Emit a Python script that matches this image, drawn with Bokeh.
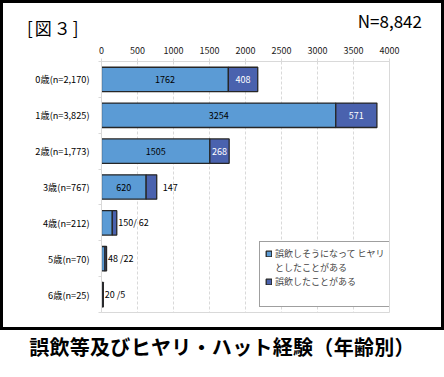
from bokeh.plotting import figure
from bokeh.models import (Range1d, FixedTicker, ColumnDataSource, Legend, LegendItem, Div)
from bokeh.layouts import column
from bokeh.core.properties import value
from bokeh.embed import file_html
from bokeh.resources import INLINE

# ---- data ----
ages = ["0歳(n=2,170)", "1歳(n=3,825)", "2歳(n=1,773)", "3歳(n=767)",
        "4歳(n=212)", "5歳(n=70)", "6歳(n=25)"]
hiyari = [1762, 3254, 1505, 620, 150, 48, 20]      # 誤飲しそうになってヒヤリとしたことがある
goin = [408, 571, 268, 147, 62, 22, 5]              # 誤飲したことがある
x_ticks = [0, 500, 1000, 1500, 2000, 2500, 3000, 3500, 4000]
series_names = ["誤飲しそうになって ヒヤリ\nとしたことがある", "誤飲したことがある"]
outside_rows = [3, 4, 5, 6]
outside_texts = ["147", "150/ 62", "48 /22", "20 /5"]
fig_label = "[図３]"
n_label = "N=8,842"
title_text = "誤飲等及びヒヤリ・ハット経験（年齢別）"

FONT = "Noto Sans CJK JP"
LIGHT = "#5b9bd5"
DARK = "#4a62ae"
GRID = "#d9d9d9"

ys = [i + 0.5 for i in range(len(ages))]
totals = [a + b for a, b in zip(hiyari, goin)]

HEADER_H = 40
p = figure(width=444, height=330 - HEADER_H, x_range=Range1d(0, 4000), y_range=Range1d(7, 0),
           x_axis_location="above", output_backend="svg", toolbar_location=None,
           min_border_left=101, min_border_right=55, min_border_top=61 - HEADER_H,
           min_border_bottom=18, margin=0)
p.background_fill_color = "white"
p.border_fill_color = "white"
p.outline_line_color = GRID

src = ColumnDataSource(dict(y=ys, h=hiyari, g=goin, t=totals))

r1 = p.hbar(y="y", left=0, right="h", height=0.68, source=src,
            fill_color=LIGHT, line_color="#262626", line_width=1.3)
r2 = p.hbar(y="y", left="h", right="t", height=0.68, source=src,
            fill_color=DARK, line_color="#262626", line_width=1.3)
# invisible renderer used for legend continuation lines (no glyph shown)
r_blank = p.hbar(y=[], left=[], right=[], height=0.68, fill_alpha=0, line_alpha=0)

# inside labels
p.text(x=[hiyari[i] / 2 for i in range(4)], y=ys[:4],
       text=[str(v) for v in hiyari[:4]], text_font=value(FONT), text_font_size="9px",
       text_color="black", text_align="center", text_baseline="middle")
p.text(x=[hiyari[i] + goin[i] / 2 for i in range(3)], y=ys[:3],
       text=[str(v) for v in goin[:3]], text_font=value(FONT), text_font_size="9px",
       text_color="white", text_align="center", text_baseline="middle")
# outside labels
p.text(x=[totals[outside_rows[0]]], y=[ys[outside_rows[0]]], text=[outside_texts[0]],
       x_offset=6, text_font=value(FONT), text_font_size="9px", text_color="black",
       text_align="left", text_baseline="middle")
p.text(x=[totals[i] for i in outside_rows[1:]], y=[ys[i] for i in outside_rows[1:]],
       text=outside_texts[1:], x_offset=1.5, text_font=value(FONT), text_font_size="9px",
       text_color="black", text_align="left", text_baseline="middle")

# axes
xa = p.xaxis[0]
xa.ticker = FixedTicker(ticks=x_ticks)
xa.axis_line_color = GRID
xa.major_tick_line_color = GRID
xa.major_tick_out = 3
xa.major_tick_in = 0
xa.minor_tick_line_color = None
xa.major_label_text_font = FONT
xa.major_label_text_font_size = "9px"
xa.major_label_text_color = "#1a1a1a"
xa.major_label_standoff = 5

ya = p.yaxis[0]
ya.ticker = FixedTicker(ticks=ys, minor_ticks=list(range(8)))
ya.major_label_overrides = {y: lab for y, lab in zip(ys, ages)}
ya.axis_line_color = GRID
ya.major_tick_line_color = None
ya.major_tick_out = 0
ya.major_tick_in = 0
ya.minor_tick_line_color = GRID
ya.minor_tick_out = 3
ya.minor_tick_in = 0
ya.major_label_text_font = FONT
ya.major_label_text_font_size = "9.2px"
ya.major_label_text_color = "black"
ya.major_label_standoff = 9

p.xgrid.ticker = FixedTicker(ticks=x_ticks)
p.xgrid.grid_line_color = GRID
p.xgrid.grid_line_dash = "3 2"
p.ygrid.grid_line_color = None

# legend (first entry wraps onto a second line)
line1, line2 = series_names[0].split("\n")
legend = Legend(items=[LegendItem(label=line1, renderers=[r1]),
                       LegendItem(label=line2, renderers=[r_blank]),
                       LegendItem(label=series_names[1], renderers=[r2]),
                       LegendItem(label=" ", renderers=[r_blank])],
                location=(158, 5), orientation="vertical",
                label_text_font=FONT, label_text_font_size="9px",
                label_height=12, glyph_width=7, glyph_height=7, label_standoff=3,
                padding=5, spacing=1, margin=0,
                border_line_color="#404040", border_line_width=1,
                background_fill_color="white", background_fill_alpha=1)
p.add_layout(legend, "center")

# header texts (inside the black frame, above the plot area)
header = Div(
    text=(f'<div style="position:relative;width:444px;height:{HEADER_H}px;'
          f'font-family:\'{FONT}\';color:black;">'
          f'<span style="position:absolute;left:27px;top:17px;font-size:17px;line-height:22px;'
          f'letter-spacing:2px;white-space:nowrap;">{fig_label}</span>'
          f'<span style="position:absolute;right:22px;top:10px;font-size:17px;line-height:22px;'
          f'white-space:nowrap;">{n_label}</span>'
          f'</div>'),
    width=444, height=HEADER_H, margin=0)

boxed = column(header, p, spacing=0, margin=0)

bottom_title = Div(
    text=(f'<div style="position:relative;width:444px;height:47px;">'
          f'<div style="position:absolute;left:0;top:-330px;width:444px;height:330px;'
          f'border:3px solid black;box-sizing:border-box;pointer-events:none;z-index:10;"></div>'
          f'<div style="width:444px;text-align:center;font-family:\'{FONT}\';'
          f'font-size:20px;font-weight:bold;line-height:24px;padding-top:5px;color:black;'
          f'letter-spacing:0.3px;white-space:nowrap;">{title_text}</div></div>'),
    width=444, height=47, margin=0)

layout = column(boxed, bottom_title, spacing=0, margin=0)

open("out.html", "w").write(file_html(layout, INLINE))
